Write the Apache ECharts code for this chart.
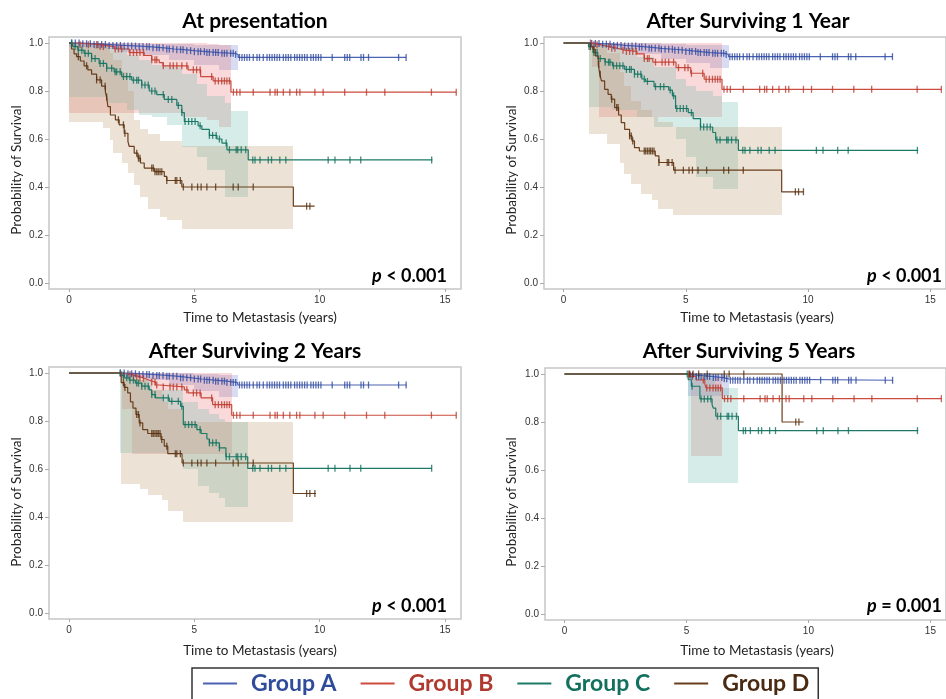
<!DOCTYPE html>
<html><head><meta charset="utf-8">
<script src="https://cdn.jsdelivr.net/npm/echarts@6/dist/echarts.min.js"></script>
<style>html,body{margin:0;padding:0;background:#fff}#c{width:946px;height:699px}</style>
</head><body><div id="c"></div>
<script>
// ---------------- DATA ----------------
const groups = ['Group A', 'Group B', 'Group C', 'Group D'];
const panelTitles = ['At presentation', 'After Surviving 1 Year', 'After Surviving 2 Years', 'After Surviving 5 Years'];
const pValues = ['< 0.001', '< 0.001', '< 0.001', '= 0.001'];
const landmarks = [0, 1, 2, 5];
const xTicks = [0, 5, 10, 15];
const yTicks = [0, 0.2, 0.4, 0.6, 0.8, 1.0];
const xTitle = 'Time to Metastasis (years)';
const yTitle = 'Probability of Survival';

// Kaplan-Meier steps [time, survival] — At presentation
const A1 = [[0,1],[0.5,0.997],[1.0,0.994],[1.5,0.99],[2.2,0.987],[2.8,0.984],[3.3,0.98],[3.8,0.975],[4.2,0.972],[4.6,0.968],[5.0,0.964],[5.5,0.96],[6.0,0.957],[6.6,0.952],[6.75,0.94],[13.45,0.94]];
const B1 = [[0,1],[0.4,0.993],[1.2,0.985],[1.8,0.975],[2.4,0.96],[3.0,0.948],[3.3,0.93],[3.6,0.918],[3.75,0.905],[4.75,0.888],[5.25,0.86],[5.75,0.842],[6.46,0.795],[15.45,0.795]];
const C1 = [[0,1],[0.15,0.985],[0.35,0.97],[0.6,0.957],[0.9,0.935],[1.2,0.915],[1.5,0.895],[1.8,0.88],[2.1,0.86],[2.5,0.845],[2.9,0.825],[3.2,0.8],[3.5,0.785],[3.8,0.765],[4.3,0.74],[4.5,0.71],[4.6,0.673],[5.15,0.655],[5.3,0.64],[5.6,0.615],[5.9,0.6],[6.1,0.583],[6.3,0.555],[7.15,0.513],[14.5,0.513]];
const D1 = [[0,1],[0.1,0.975],[0.2,0.955],[0.3,0.943],[0.45,0.925],[0.6,0.905],[0.75,0.888],[0.9,0.87],[1.1,0.846],[1.3,0.82],[1.45,0.795],[1.5,0.775],[1.55,0.735],[1.65,0.7],[1.85,0.68],[2.0,0.659],[2.2,0.624],[2.35,0.59],[2.4,0.569],[2.6,0.541],[2.75,0.52],[2.85,0.5],[3.0,0.479],[3.4,0.464],[3.8,0.444],[3.9,0.427],[4.5,0.4],[8.95,0.32],[9.8,0.32]];
// After surviving 1 year
const A2 = [[0,1],[1.1,0.998],[1.5,0.995],[2.0,0.99],[2.5,0.987],[3.0,0.983],[3.5,0.978],[4.0,0.974],[4.5,0.97],[5.0,0.965],[5.5,0.96],[6.0,0.957],[6.6,0.952],[6.75,0.943],[13.47,0.943]];
const B2 = [[0,1],[1.15,0.993],[1.5,0.985],[1.85,0.978],[2.2,0.97],[2.5,0.965],[3.0,0.955],[3.3,0.935],[3.65,0.92],[4.6,0.897],[5.2,0.874],[5.75,0.849],[6.48,0.807],[15.45,0.807]];
const C2 = [[0,1],[1.02,0.985],[1.2,0.96],[1.4,0.935],[1.7,0.92],[2.0,0.905],[2.5,0.89],[2.9,0.87],[3.2,0.85],[3.35,0.84],[3.7,0.818],[4.3,0.804],[4.45,0.78],[4.58,0.727],[5.1,0.71],[5.3,0.685],[5.6,0.65],[6.1,0.627],[6.22,0.596],[7.15,0.553],[14.5,0.553]];
const D2 = [[0,1],[1.1,0.985],[1.2,0.974],[1.3,0.946],[1.42,0.911],[1.48,0.87],[1.55,0.842],[1.68,0.807],[1.82,0.786],[1.95,0.766],[2.09,0.731],[2.25,0.7],[2.36,0.668],[2.5,0.64],[2.7,0.613],[2.8,0.592],[2.9,0.564],[3.1,0.55],[3.75,0.53],[3.9,0.502],[4.5,0.47],[8.92,0.38],[9.81,0.38]];
// After surviving 2 years
const A3 = [[0,1],[2.3,0.997],[2.8,0.994],[3.3,0.99],[3.9,0.986],[4.4,0.98],[4.9,0.975],[5.3,0.97],[5.8,0.966],[6.3,0.96],[6.73,0.95],[13.47,0.95]];
const B3 = [[0,1],[2.1,0.993],[2.5,0.985],[2.8,0.978],[3.0,0.97],[3.2,0.962],[3.45,0.95],[3.6,0.942],[4.6,0.93],[4.75,0.917],[5.27,0.896],[5.73,0.868],[6.49,0.824],[15.45,0.824]];
const C3 = [[0,1],[2.05,0.99],[2.2,0.98],[2.4,0.97],[2.65,0.958],[2.9,0.945],[3.2,0.93],[3.3,0.91],[3.45,0.896],[4.0,0.882],[4.45,0.861],[4.56,0.785],[5.1,0.764],[5.27,0.748],[5.5,0.725],[5.6,0.709],[6.0,0.688],[6.26,0.651],[7.13,0.603],[14.48,0.603]];
const D3 = [[0,1],[2.08,0.96],[2.2,0.94],[2.34,0.917],[2.45,0.88],[2.55,0.854],[2.67,0.827],[2.8,0.792],[2.94,0.764],[3.14,0.748],[3.67,0.723],[3.8,0.695],[3.94,0.664],[4.51,0.625],[8.95,0.498],[9.85,0.498]];
// After surviving 5 years
const A4 = [[0,1],[5.1,0.995],[5.4,0.99],[6.0,0.985],[6.5,0.98],[6.73,0.974],[13.47,0.974]];
const B4 = [[0,1],[5.15,0.99],[5.4,0.975],[5.75,0.96],[5.8,0.942],[6.47,0.897],[15.45,0.897]];
const C4 = [[0,1],[5.07,0.976],[5.2,0.949],[5.55,0.896],[6.05,0.872],[6.1,0.858],[6.2,0.824],[7.13,0.764],[14.5,0.764]];
const D4 = [[0,1],[8.92,0.8],[9.8,0.8]];

// Confidence bands [t0, t1, lower, upper]
const bandA1 = [[0,1,0.985,1],[1,2,0.975,1],[2,3,0.962,0.999],[3,4,0.948,0.997],[4,5,0.93,0.995],[5,6,0.91,0.993],[6,6.75,0.889,0.99]];
const bandB1 = [[0,4.5,0.707,1],[4.5,5.5,0.69,1],[5.5,6.0,0.68,0.995],[6.0,6.46,0.652,0.99]];
const bandC1 = [[0,1.5,0.776,1],[1.5,2.3,0.75,0.98],[2.3,2.8,0.72,0.95],[2.8,3.3,0.7,0.93],[3.3,3.9,0.69,0.91],[3.9,4.5,0.66,0.9],[4.5,5.09,0.567,0.87],[5.09,5.5,0.527,0.83],[5.5,6.22,0.472,0.78],[6.22,6.46,0.358,0.75],[6.46,7.15,0.358,0.715]];
const bandD1 = [[0,1.37,0.67,1],[1.37,1.64,0.645,0.99],[1.64,1.77,0.596,0.96],[1.77,2.1,0.54,0.93],[2.1,2.37,0.5,0.88],[2.37,2.6,0.457,0.8],[2.6,2.83,0.41,0.68],[2.83,3.16,0.36,0.64],[3.16,3.63,0.31,0.62],[3.63,3.9,0.275,0.59],[3.9,4.5,0.263,0.59],[4.5,8.95,0.227,0.57]];
const bandA2 = [[1.03,2,0.985,1],[2,3,0.97,1],[3,4,0.955,0.998],[4,5,0.935,0.996],[5,6,0.915,0.993],[6,6.75,0.895,0.99]];
const bandB2 = [[1.15,1.45,0.9,1],[1.45,6.48,0.69,1]];
const bandC2 = [[1.03,2.0,0.735,1],[2.0,3.0,0.72,0.98],[3.0,3.7,0.69,0.94],[3.7,4.6,0.65,0.9],[4.6,5.0,0.6,0.85],[5.0,5.4,0.524,0.82],[5.4,6.13,0.441,0.8],[6.13,6.48,0.392,0.78],[6.48,7.15,0.392,0.753]];
const bandD2 = [[1.03,1.76,0.62,1],[1.76,2.29,0.58,0.96],[2.29,2.49,0.5,0.88],[2.49,2.75,0.455,0.82],[2.75,3.15,0.413,0.76],[3.15,3.62,0.37,0.72],[3.62,3.88,0.345,0.69],[3.88,4.48,0.31,0.67],[4.48,8.92,0.283,0.65]];
const bandA3 = [[2.05,3,0.985,1],[3,4,0.97,1],[4,5,0.95,0.998],[5,6,0.925,0.995],[6,6.73,0.898,0.99]];
const bandB3 = [[2.1,2.5,0.85,1],[2.5,6.49,0.664,1]];
const bandC3 = [[2.05,2.5,0.667,1],[2.5,3.3,0.667,0.97],[3.3,4.55,0.667,0.93],[4.55,5.15,0.6,0.88],[5.15,5.6,0.53,0.85],[5.6,6.0,0.5,0.83],[6.0,6.24,0.48,0.81],[6.24,7.14,0.441,0.797]];
const bandD3 = [[2.08,2.82,0.538,1],[2.82,3.16,0.518,0.97],[3.16,3.69,0.49,0.93],[3.69,3.95,0.47,0.88],[3.95,4.55,0.427,0.85],[4.55,8.95,0.379,0.794]];
const bandA4 = [[5.07,6.73,0.908,1]];
const bandB4 = [[5.2,6.47,0.66,0.985]];
const bandC4 = [[5.08,6.18,0.547,1],[6.18,7.13,0.546,0.943]];
const bandD4 = [];

// Censoring times (same patients appear in every landmark panel)
const censorA = [0.1,0.25,0.4,0.55,0.7,0.85,1.0,1.15,1.3,1.45,1.6,1.75,1.9,2.05,2.2,2.35,2.5,2.65,2.8,2.95,3.1,3.2,3.35,3.5,3.6,3.75,3.9,4.0,4.15,4.3,4.45,4.55,4.7,4.85,5.0,5.15,5.25,5.4,5.5,5.6,5.75,5.85,5.95,6.1,6.2,6.3,6.45,6.55,6.65,6.8,6.9,7.0,7.1,7.2,7.35,7.5,7.6,7.75,7.9,8.0,8.1,8.2,8.3,8.4,8.55,8.65,8.75,8.85,9.0,9.1,9.2,9.3,9.4,9.5,9.65,9.75,9.85,9.95,10.05,10.5,11.0,11.1,11.2,11.65,11.75,11.95,13.15,13.45];
const censorB = [0.44,0.77,1.1,1.24,1.37,1.84,1.97,2.1,2.43,2.57,2.7,2.83,2.97,3.3,3.43,3.5,3.76,4.03,4.16,4.3,4.5,4.7,4.96,5.09,5.23,5.69,5.83,5.96,6.09,6.2,6.3,6.4,6.56,6.69,6.82,7.35,8.02,8.22,8.31,8.55,8.81,9.08,9.21,9.81,10.14,11.0,11.87,12.6,14.46,15.45];
const censorC = [0.11,0.24,0.37,0.51,0.64,0.77,0.9,1.04,1.24,1.37,1.5,1.7,1.84,1.9,2.04,2.17,2.3,2.43,2.57,2.7,2.77,2.9,3.03,3.16,3.3,3.43,3.76,3.96,4.1,4.36,4.5,4.63,4.77,4.9,5.03,5.23,5.6,5.73,5.87,6.0,6.27,6.4,6.67,6.73,6.87,7.05,7.33,7.42,7.62,7.95,8.08,8.41,8.65,10.34,10.61,11.21,11.64,14.47];
const censorD = [0.37,0.7,1.1,1.24,1.44,1.5,1.97,2.17,2.23,2.7,2.77,2.83,3.3,3.36,3.43,3.5,3.56,3.63,3.7,3.9,4.24,4.3,4.44,4.56,4.9,5.13,5.27,5.5,5.85,6.55,6.75,7.35,9.48,9.61,9.81];

const stepsByPanel = [[A1,B1,C1,D1],[A2,B2,C2,D2],[A3,B3,C3,D3],[A4,B4,C4,D4]];
const bandsByPanel = [[bandA1,bandB1,bandC1,bandD1],[bandA2,bandB2,bandC2,bandD2],[bandA3,bandB3,bandC3,bandD3],[bandA4,bandB4,bandC4,bandD4]];
const censorsByGroup = [censorA, censorB, censorC, censorD];

// ---------------- STYLE / LAYOUT ----------------
const lineColors = ['#4c63b4', '#cc4b3d', '#1d7a67', '#6b3e1d'];
const markColors = ['#2e489d', '#b73b2f', '#11705e', '#55300f'];
const bandColors = ['rgba(105,120,205,0.26)', 'rgba(232,110,110,0.26)', 'rgba(105,185,175,0.27)', 'rgba(185,150,105,0.28)'];
const legendText = ['#2f4b9b', '#b03a30', '#12705e', '#4a2a12'];
const layout = [
  {left: 49,  top: 37,  tx: 255, ty: 21,  px: 447, py: 276, xtx: 260, xty: 318, ytx: 17,  yty: 170},
  {left: 544, top: 37,  tx: 748, ty: 21,  px: 942, py: 276, xtx: 757, xty: 318, ytx: 512, yty: 170},
  {left: 49,  top: 367, tx: 255, ty: 351, px: 447, py: 606, xtx: 260, xty: 651, ytx: 17,  yty: 502},
  {left: 545, top: 368, tx: 749, ty: 351, px: 942, py: 606, xtx: 757, xty: 651, ytx: 512, yty: 502}
];
const XMIN = -0.8, XMAX = 15.64, YMIN = -0.025, YMAX = 1.025;

function stepAt(steps, t) {
  let v = steps[0][1];
  for (const s of steps) { if (s[0] <= t) v = s[1]; else break; }
  return v;
}
function bandRenderer(color) {
  return function (params, api) {
    const p0 = api.coord([api.value(0), api.value(3)]);
    const p1 = api.coord([api.value(1), api.value(2)]);
    const x0 = Math.round(p0[0]), x1 = Math.round(p1[0]);
    const y0 = Math.round(p0[1]), y1 = Math.round(p1[1]);
    return {type: 'rect', shape: {x: x0, y: y0, width: x1 - x0, height: y1 - y0}, style: {fill: color}};
  };
}

const grid = [], xAxis = [], yAxis = [], series = [], graphic = [];
layout.forEach((L, p) => {
  grid.push({left: L.left, top: L.top, width: 412, height: 252, show: true, borderColor: '#c6c6c6', borderWidth: 1.5, backgroundColor: 'transparent'});
  xAxis.push({type: 'value', gridIndex: p, min: XMIN, max: XMAX, axisLine: {show: false, onZero: false},
    axisTick: {show: true, customValues: xTicks, length: 3, lineStyle: {color: '#aaa'}},
    axisLabel: {customValues: xTicks, fontSize: 10, color: '#333', fontFamily: 'Liberation Sans', margin: 6},
    splitLine: {show: false}});
  yAxis.push({type: 'value', gridIndex: p, min: YMIN, max: YMAX, axisLine: {show: false, onZero: false},
    axisTick: {show: true, customValues: yTicks, length: 4, lineStyle: {color: '#aaa'}},
    axisLabel: {customValues: yTicks, fontSize: 10, color: '#333', fontFamily: 'Liberation Sans', margin: 6, formatter: v => v.toFixed(1)},
    splitLine: {show: false}});
  const steps = stepsByPanel[p], bands = bandsByPanel[p];
  for (let g = 0; g < 4; g++) {
    if (bands[g].length) series.push({type: 'custom', name: groups[g], xAxisIndex: p, yAxisIndex: p, silent: true, z: 1,
      renderItem: bandRenderer(bandColors[g]), encode: {x: [0, 1], y: [2, 3]}, data: bands[g]});
  }
  for (let g = 0; g < 4; g++) {
    series.push({type: 'line', name: groups[g], xAxisIndex: p, yAxisIndex: p, step: 'end', showSymbol: false, z: 3 + g * 0.1,
      lineStyle: {color: lineColors[g], width: 1.2}, itemStyle: {color: lineColors[g]}, data: steps[g]});
  }
  for (let g = 0; g < 4; g++) {
    const last = steps[g][steps[g].length - 1][0];
    const pts = censorsByGroup[g].filter(t => t > landmarks[p] && t <= last).map(t => [t, stepAt(steps[g], t)]);
    series.push({type: 'scatter', name: groups[g], xAxisIndex: p, yAxisIndex: p, symbol: 'rect', symbolSize: [1.3, 7], z: 4,
      itemStyle: {color: markColors[g]}, data: pts});
  }
  graphic.push({type: 'text', x: L.tx, y: L.ty, silent: true, style: {text: panelTitles[p], font: 'bold 21px Lato', fill: '#000', textAlign: 'center', textVerticalAlign: 'middle'}});
  graphic.push({type: 'text', x: L.px, y: L.py, silent: true, style: {text: '{i|p} ' + pValues[p], font: 'bold 18px Lato', fill: '#000', textAlign: 'right', textVerticalAlign: 'middle',
    rich: {i: {font: 'italic bold 18px Lato', fill: '#000'}}}});
  graphic.push({type: 'text', x: L.xtx, y: L.xty, silent: true, style: {text: xTitle, font: '13.5px Lato', fill: '#222', textAlign: 'center', textVerticalAlign: 'middle'}});
  graphic.push({type: 'text', x: L.ytx, y: L.yty, rotation: Math.PI / 2, silent: true, style: {text: yTitle, font: '13.5px Lato', fill: '#222', textAlign: 'center', textVerticalAlign: 'middle'}});
});

const chart = echarts.init(document.getElementById('c'), null, {renderer: 'canvas'});
chart.setOption({
  animation: false,
  backgroundColor: '#fff',
  grid, xAxis, yAxis, series, graphic,
  legend: {
    left: 192, top: 668, padding: [4, 9, 14, 11], itemGap: 24, itemWidth: 34, itemHeight: 2, icon: 'rect',
    borderColor: '#333', borderWidth: 1.5, borderRadius: 0, selectedMode: false,
    textStyle: {fontFamily: 'Lato', fontWeight: 'bold', fontSize: 23, padding: [0, 0, 0, 9]},
    data: groups.map((g, i) => ({name: g, itemStyle: {color: lineColors[i]}, textStyle: {color: legendText[i]}}))
  }
});
</script></body></html>
